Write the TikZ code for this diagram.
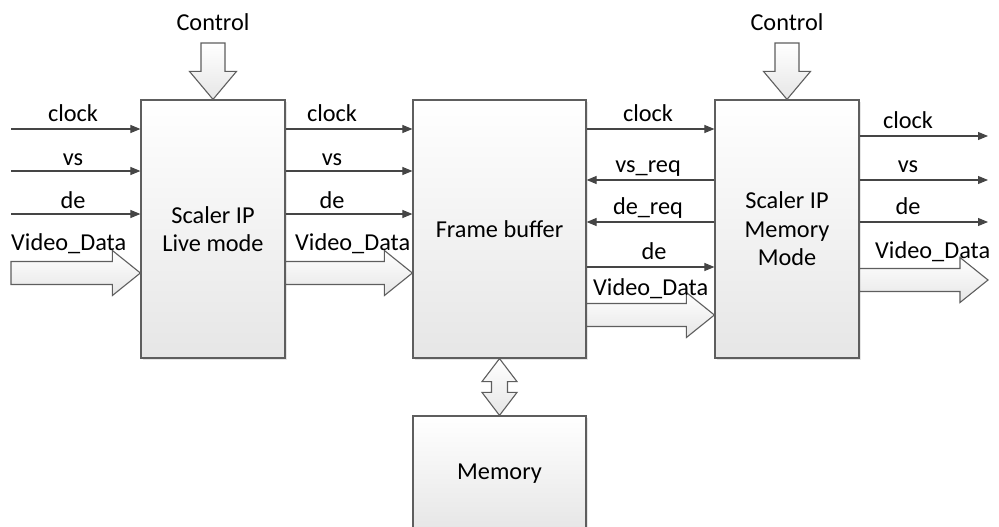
\documentclass[tikz,border=0pt]{standalone}
\usepackage{fontspec}
\setmainfont{Carlito}
\usetikzlibrary{calc,shadows,arrows.meta}
\definecolor{boxborder}{HTML}{5E5E5E}
\definecolor{lineclr}{HTML}{454545}
\definecolor{boxgray}{HTML}{E6E6E6}
\newcommand\fatH[2]{%
  \path[fat] let \p1=(#1), \p2=(#2) in
    (\x1,\y1+11.5pt) -- (\x2-28pt,\y1+11.5pt) -- (\x2-28pt,\y1+22.5pt) -- (\x2,\y1)
    -- (\x2-28pt,\y1-22.5pt) -- (\x2-28pt,\y1-11.5pt) -- (\x1,\y1-11.5pt) -- cycle;}
\newcommand\fatV[2]{%
  \path[fat] let \p1=(#1), \p2=(#2) in
    (\x1-12pt,\y1) -- (\x1+12pt,\y1) -- (\x1+12pt,\y2+28pt) -- (\x1+23.5pt,\y2+28pt)
    -- (\x2,\y2) -- (\x1-23.5pt,\y2+28pt) -- (\x1-12pt,\y2+28pt) -- cycle;}
\begin{document}
\begin{tikzpicture}[x=1pt,y=-1pt,
  font=\fontsize{24.3}{28.5}\selectfont,
  blk/.style={draw=boxborder, line width=1.2pt, top color=white, bottom color=boxgray,
    align=center, inner sep=0pt,
    drop shadow={shadow xshift=2pt,shadow yshift=-2pt,opacity=0.2}},
  sig/.style={draw=lineclr, line width=1.1pt, -{Triangle[length=10pt,width=8pt]}},
  lbl/.style={anchor=base, inner sep=0pt},
  fat/.style={draw=boxborder, line width=1.1pt, top color=white, bottom color=boxgray}]
\useasboundingbox (0,0) rectangle (999,527);

% blocks
\node[blk, minimum width=144pt, minimum height=258pt] (live) at (213,229) {Scaler IP\\Live mode};
\node[blk, minimum width=173pt, minimum height=258pt] (fb) at (499.5,229) {Frame buffer};
\node[blk, minimum width=144pt, minimum height=258pt] (rm) at (787,229) {Scaler IP\\Memory\\Mode};
\node[blk, minimum width=173pt, minimum height=116pt] (mem) at (499.5,474) {Memory};

% level coordinates
\coordinate (i1) at (11,129);
\coordinate (i2) at (11,171);
\coordinate (i3) at (11,214);
\coordinate (iv) at (11,273);
\coordinate (r1) at (0,129);
\coordinate (r2) at (0,180);
\coordinate (r3) at (0,222);
\coordinate (r4) at (0,267);
\coordinate (rv) at (0,315);
\coordinate (o1) at (988,136);
\coordinate (o2) at (988,180);
\coordinate (o3) at (988,222);
\coordinate (ov) at (988,280);
\coordinate (c1) at (213,43);
\coordinate (c2) at (787,43);

% control arrows
\node[lbl] (ctl1) at (213,30.5) {Control};
\node[lbl] (ctl2) at (787,30.5) {Control};
\fatV{c1}{live.north}
\fatV{c2}{rm.north}

% left inputs
\draw[sig] (i1) -- (i1 -| live.west);
\draw[sig] (i2) -- (i2 -| live.west);
\draw[sig] (i3) -- (i3 -| live.west);
\fatH{iv}{iv -| live.west}
\node[lbl] (l1) at (73,121.5) {clock};
\node[lbl] (l2) at (73,165.5) {vs};
\node[lbl] (l3) at (73,208) {de};
\node[lbl, anchor=base west] (l4) at (11,250.5) {Video\_Data};

% live -> frame buffer
\draw[sig] (live.east |- i1) -- (fb.west |- i1);
\draw[sig] (live.east |- i2) -- (fb.west |- i2);
\draw[sig] (live.east |- i3) -- (fb.west |- i3);
\fatH{live.east |- iv}{fb.west |- iv}
\node[lbl] (m1) at (332,121.5) {clock};
\node[lbl] (m2) at (332,165.5) {vs};
\node[lbl] (m3) at (332,208) {de};
\node[lbl, anchor=base west] (m4) at (295,250.5) {Video\_Data};

% frame buffer <-> memory mode scaler
\draw[sig] (fb.east |- r1) -- (rm.west |- r1);
\draw[sig] (rm.west |- r2) -- (fb.east |- r2);
\draw[sig] (rm.west |- r3) -- (fb.east |- r3);
\draw[sig] (fb.east |- r4) -- (rm.west |- r4);
\fatH{fb.east |- rv}{rm.west |- rv}
\node[lbl] (n1) at (648,121.5) {clock};
\node[lbl] (n2) at (648,172) {vs\_req};
\node[lbl] (n3) at (648,214) {de\_req};
\node[lbl] (n4) at (654,259) {de};
\node[lbl, anchor=base west] (n5) at (593,295) {Video\_Data};

% right outputs
\draw[sig] (rm.east |- o1) -- (o1);
\draw[sig] (rm.east |- o2) -- (o2);
\draw[sig] (rm.east |- o3) -- (o3);
\fatH{rm.east |- ov}{ov}
\node[lbl] (p1) at (908,128.5) {clock};
\node[lbl] (p2) at (908,172) {vs};
\node[lbl] (p3) at (908,214) {de};
\node[lbl, anchor=base west] (p4) at (875,258) {Video\_Data};

% memory double arrow
\path[fat] let \p1=(fb.south), \p2=(mem.north) in
  (\x1,\y1) -- (\x1+17.5pt,\y1-23pt) -- (\x1+8pt,\y1-23pt) -- (\x1+8pt,\y2+23pt)
  -- (\x1+17.5pt,\y2+23pt) -- (\x2,\y2) -- (\x1-17.5pt,\y2+23pt) -- (\x1-8pt,\y2+23pt)
  -- (\x1-8pt,\y1-23pt) -- (\x1-17.5pt,\y1-23pt) -- cycle;
\end{tikzpicture}
\end{document}
